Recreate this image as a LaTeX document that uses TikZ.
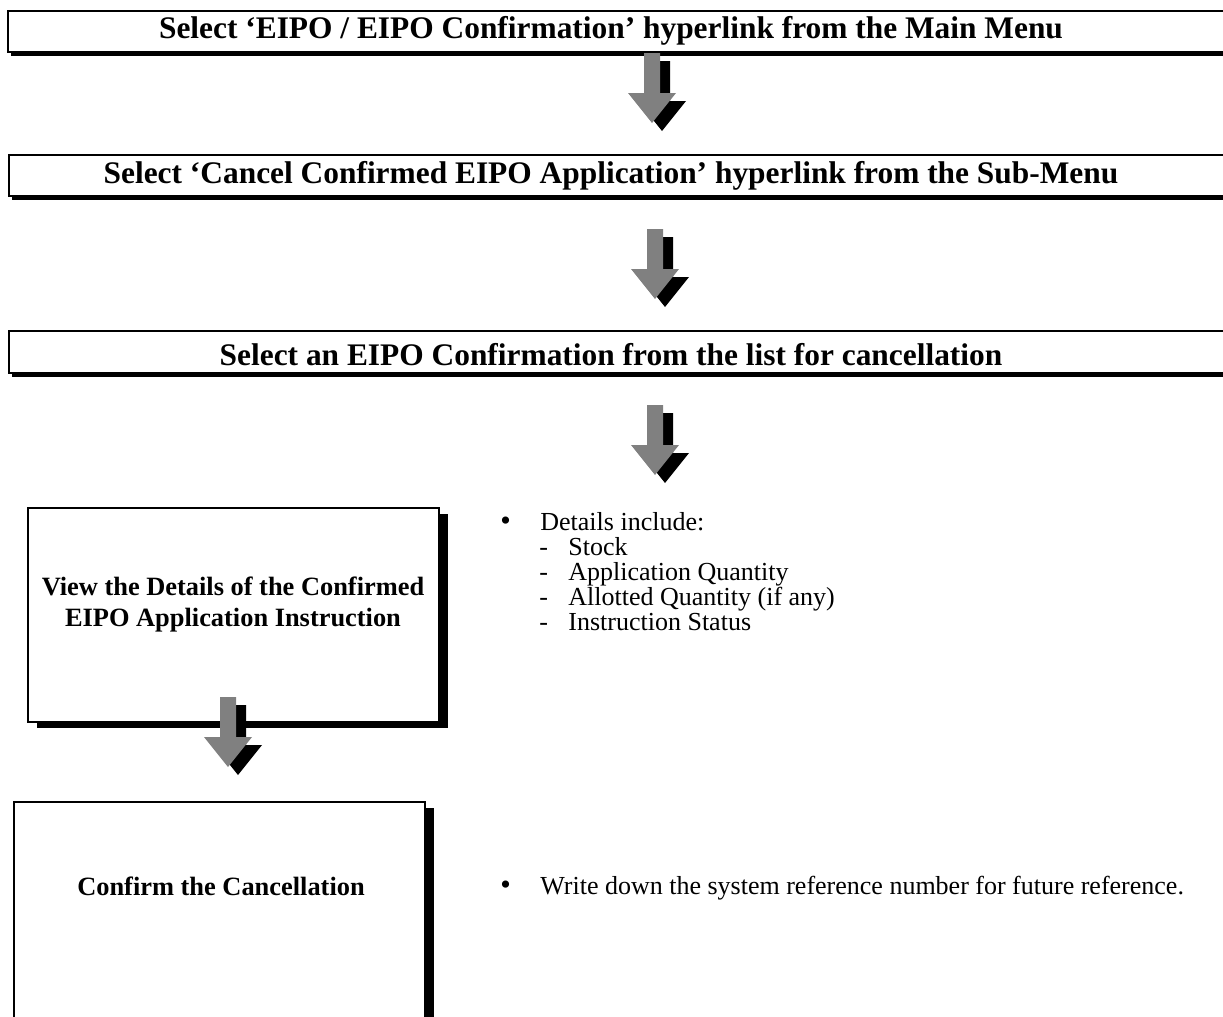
\documentclass[tikz,border=0pt]{standalone}
\usepackage{fontspec}
\setmainfont{Liberation Serif}
\usetikzlibrary{shadows}

\definecolor{arrowgray}{RGB}{128,128,128}

\tikzset{
  banner/.style={draw, line width=0.75pt, fill=white,
    drop shadow={shadow xshift=1.5pt, shadow yshift=-2pt, fill=black, opacity=1}},
  stepbox/.style={draw, line width=0.9pt, fill=white,
    drop shadow={shadow xshift=4.5pt, shadow yshift=-3pt, fill=black, opacity=1}},
  bannertext/.style={font=\fontsize{15.7pt}{18pt}\selectfont\bfseries},
  boxtext/.style={font=\fontsize{13.2pt}{15.5pt}\selectfont\bfseries, align=center},
  itemtext/.style={font=\fontsize{13pt}{15pt}\selectfont, anchor=base west, inner sep=0pt},
  downarrow/.pic={
    \fill[black, shift={(10,8)}] (-8,0) -- (8,0) -- (8,40) -- (24,40) -- (0,70) -- (-24,40) -- (-8,40) -- cycle;
    \fill[arrowgray] (-8,0) -- (8,0) -- (8,40) -- (24,40) -- (0,70) -- (-24,40) -- (-8,40) -- cycle;
  }
}

\begin{document}
\begin{tikzpicture}[x=0.5pt, y=-0.5pt]
\useasboundingbox (0,0) rectangle (1223,1017);
\clip (0,0) rectangle (1223,1017);

% banners
\draw[banner] (8,11) rectangle (1260,52);
\node[bannertext] (menu) at (611,31) {Select ‘EIPO / EIPO Confirmation’ hyperlink from the Main Menu};
\draw[banner] (9,155) rectangle (1260,196);
\node[bannertext] (submenu) at (611,176) {Select ‘Cancel Confirmed EIPO Application’ hyperlink from the Sub-Menu};
\draw[banner] (9,331) rectangle (1260,373);
\node[bannertext] (select) at (611,355) {Select an EIPO Confirmation from the list for cancellation};

% boxes
\draw[stepbox] (28,508) rectangle (439,722);
\node[boxtext] (view) at (233,605) {View the Details of the Confirmed\\EIPO Application Instruction};
\draw[stepbox] (14,802) rectangle (425,1060);
\node[boxtext] (confirm) at (221,886) {Confirm the Cancellation};

% arrows
\pic (arr1) at (652,53) {downarrow};
\pic (arr2) at (655,229) {downarrow};
\pic (arr3) at (655,405) {downarrow};
\pic (arr4) at (228,697) {downarrow};

% notes
\node[itemtext, font=\fontsize{15pt}{15pt}\selectfont] (b1) at (500,530) {•};
\node[itemtext] (details) at (540,530) {Details include:};
\node[itemtext] (d1) at (539,555) {-};
\node[itemtext] (stock) at (568,555) {Stock};
\node[itemtext] (d2) at (539,580) {-};
\node[itemtext] (appqty) at (568,580) {Application Quantity};
\node[itemtext] (d3) at (539,605) {-};
\node[itemtext] (allqty) at (568,605) {Allotted Quantity (if any)};
\node[itemtext] (d4) at (539,630) {-};
\node[itemtext] (status) at (568,630) {Instruction Status};
\node[itemtext, font=\fontsize{15pt}{15pt}\selectfont] (b2) at (500,894) {•};
\node[itemtext] (refno) at (540,894) {Write down the system reference number for future reference.};
\end{tikzpicture}
\end{document}
